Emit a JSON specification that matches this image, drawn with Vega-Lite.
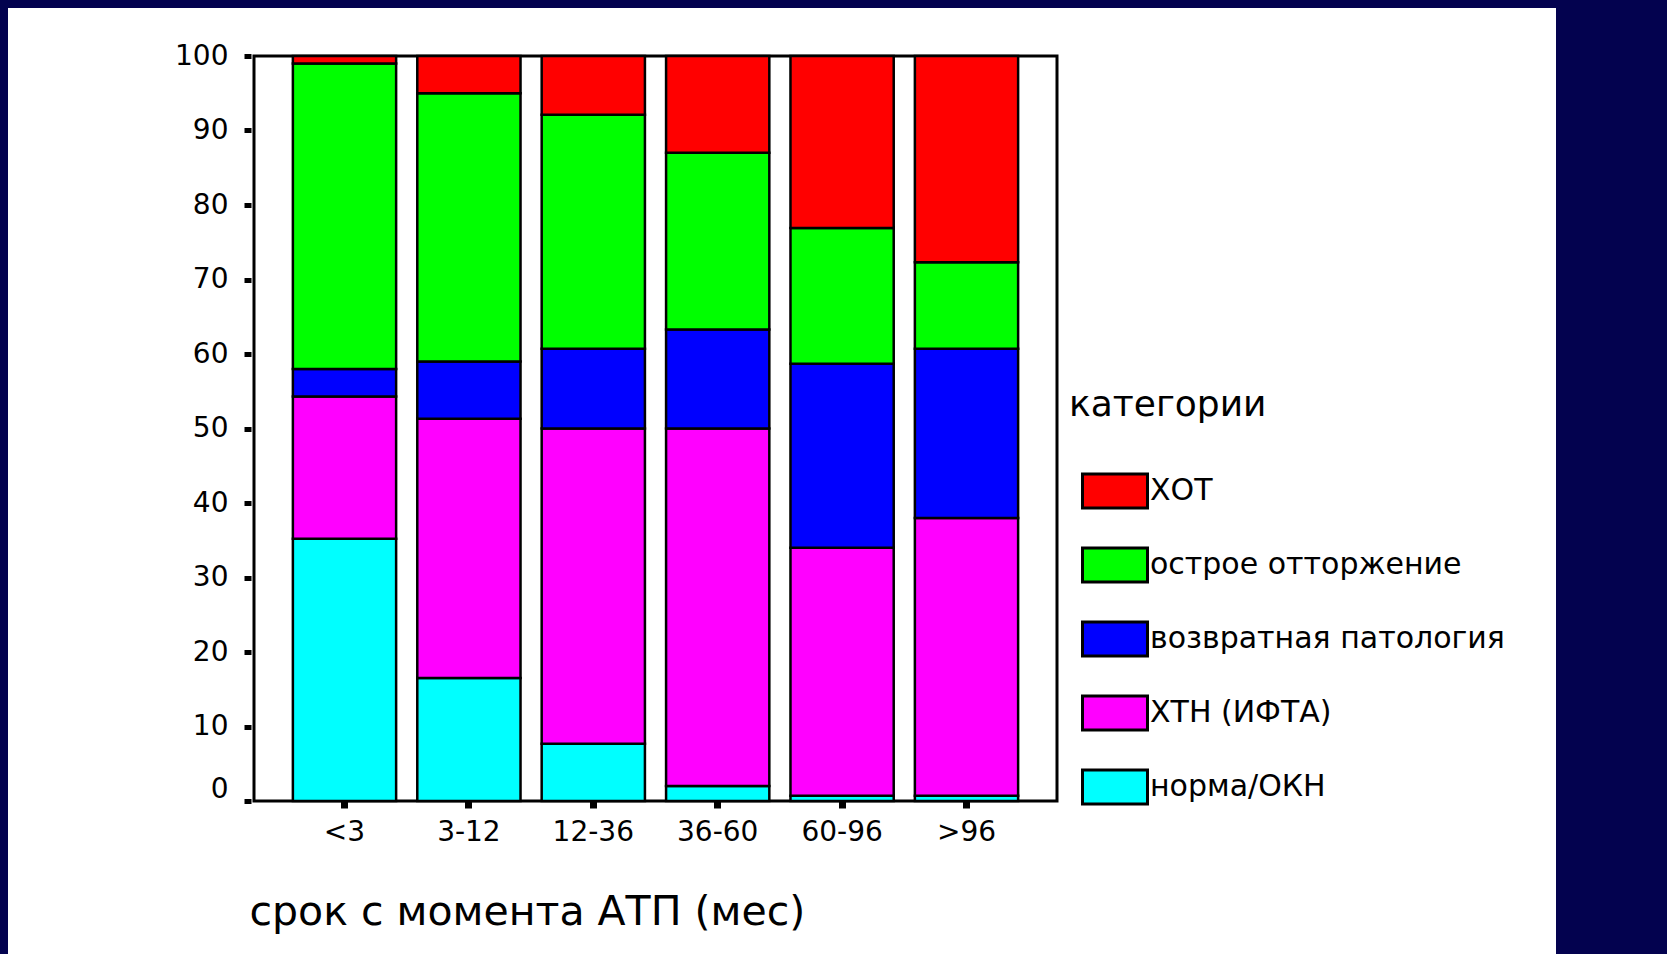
{
  "$schema": "https://vega.github.io/schema/vega-lite/v6.json",
  "background": "#03024f",
  "padding": {"left": 8, "top": 8, "right": 111, "bottom": 0},
  "columns": 2,
  "align": "none",
  "spacing": -1383,
  "config": {
    "font": "DejaVu Sans",
    "view": {"stroke": null}
  },
  "concat": [
    {
      "width": 1548,
      "height": 946,
      "data": {"values": []},
      "mark": {"type": "rect"},
      "view": {"fill": "white", "stroke": null}
    },
    {
      "columns": 1,
      "align": "none",
      "spacing": 31,
      "concat": [
        {
          "width": 1,
          "height": 1,
          "data": {"values": []},
          "mark": {"type": "rect"},
          "view": {"fill": "white", "stroke": null}
        },
        {
          "width": 803,
          "height": 745,
          "view": {"stroke": "black", "strokeWidth": 3, "fill": null},
          "data": {
            "values": [
              {"period": "<3", "cat": "норма/ОКН", "ord": 1, "pct": 35.2},
              {"period": "<3", "cat": "ХТН (ИФТА)", "ord": 2, "pct": 19.1},
              {"period": "<3", "cat": "возвратная патология", "ord": 3, "pct": 3.7},
              {"period": "<3", "cat": "острое отторжение", "ord": 4, "pct": 41.0},
              {"period": "<3", "cat": "ХОТ", "ord": 5, "pct": 1.0},
              {"period": "3-12", "cat": "норма/ОКН", "ord": 1, "pct": 16.5},
              {"period": "3-12", "cat": "ХТН (ИФТА)", "ord": 2, "pct": 34.8},
              {"period": "3-12", "cat": "возвратная патология", "ord": 3, "pct": 7.7},
              {"period": "3-12", "cat": "острое отторжение", "ord": 4, "pct": 36.0},
              {"period": "3-12", "cat": "ХОТ", "ord": 5, "pct": 5.0},
              {"period": "12-36", "cat": "норма/ОКН", "ord": 1, "pct": 7.7},
              {"period": "12-36", "cat": "ХТН (ИФТА)", "ord": 2, "pct": 42.3},
              {"period": "12-36", "cat": "возвратная патология", "ord": 3, "pct": 10.7},
              {"period": "12-36", "cat": "острое отторжение", "ord": 4, "pct": 31.4},
              {"period": "12-36", "cat": "ХОТ", "ord": 5, "pct": 7.9},
              {"period": "36-60", "cat": "норма/ОКН", "ord": 1, "pct": 2.0},
              {"period": "36-60", "cat": "ХТН (ИФТА)", "ord": 2, "pct": 48.0},
              {"period": "36-60", "cat": "возвратная патология", "ord": 3, "pct": 13.3},
              {"period": "36-60", "cat": "острое отторжение", "ord": 4, "pct": 23.7},
              {"period": "36-60", "cat": "ХОТ", "ord": 5, "pct": 13.0},
              {"period": "60-96", "cat": "норма/ОКН", "ord": 1, "pct": 0.7},
              {"period": "60-96", "cat": "ХТН (ИФТА)", "ord": 2, "pct": 33.3},
              {"period": "60-96", "cat": "возвратная патология", "ord": 3, "pct": 24.7},
              {"period": "60-96", "cat": "острое отторжение", "ord": 4, "pct": 18.2},
              {"period": "60-96", "cat": "ХОТ", "ord": 5, "pct": 23.1},
              {"period": ">96", "cat": "норма/ОКН", "ord": 1, "pct": 0.7},
              {"period": ">96", "cat": "ХТН (ИФТА)", "ord": 2, "pct": 37.3},
              {"period": ">96", "cat": "возвратная патология", "ord": 3, "pct": 22.7},
              {"period": ">96", "cat": "острое отторжение", "ord": 4, "pct": 11.6},
              {"period": ">96", "cat": "ХОТ", "ord": 5, "pct": 27.7}
            ]
          },
          "mark": {"type": "bar", "stroke": "black", "strokeWidth": 2.5},
          "encoding": {
            "x": {
              "field": "period",
              "type": "nominal",
              "sort": ["<3", "3-12", "12-36", "36-60", "60-96", ">96"],
              "scale": {"paddingInner": 0.17, "paddingOuter": 0.3125},
              "axis": {
                "title": "срок с момента  АТП (мес)",
                "domain": false,
                "grid": false,
                "tickSize": 7,
                "tickWidth": 7,
                "tickColor": "black",
                "labelPadding": 10,
                "labelAngle": 0,
                "labelFont": "DejaVu Sans",
                "labelFontSize": 28,
                "labelColor": "black",
                "titleFont": "DejaVu Sans",
                "titleFontSize": 41,
                "titleFontWeight": "normal",
                "titleColor": "black",
                "titleAnchor": "start",
                "titleAlign": "left",
                "titleBaseline": "alphabetic",
                "titleX": -5,
                "titleY": 123,
                "titleLimit": 0
              }
            },
            "y": {
              "field": "pct",
              "type": "quantitative",
              "stack": "zero",
              "scale": {"domain": [0, 100], "nice": false},
              "axis": {
                "title": null,
                "offset": 3,
                "domain": false,
                "grid": false,
                "values": [0, 10, 20, 30, 40, 50, 60, 70, 80, 90, 100],
                "tickSize": 7,
                "tickWidth": 5,
                "tickColor": "black",
                "labelPadding": 16,
                "labelOffset": {"condition": {"test": "datum.value === 0", "value": -12}, "value": 0},
                "labelFont": "DejaVu Sans",
                "labelFontSize": 28,
                "labelColor": "black"
              }
            },
            "color": {
              "field": "cat",
              "type": "nominal",
              "scale": {
                "domain": ["ХОТ", "острое отторжение", "возвратная патология", "ХТН (ИФТА)", "норма/ОКН"],
                "range": ["#ff0000", "#00ff00", "#0000ff", "#ff00ff", "#00ffff"]
              },
              "legend": {
                "orient": "none",
                "legendX": 1061,
                "legendY": 380,
                "title": "категории",
                "titleFont": "DejaVu Sans",
                "titleFontSize": 36,
                "titleFontWeight": "normal",
                "titleColor": "black",
                "titlePadding": 33,
                "titleLimit": 0,
                "labelFont": "DejaVu Sans",
                "labelFontSize": 30,
                "labelColor": "black",
                "labelLimit": 0,
                "symbolType": "M-1,-0.52H1V0.52H-1Z",
                "symbolSize": 4225,
                "symbolStrokeColor": "black",
                "symbolStrokeWidth": 3,
                "symbolOpacity": 1,
                "symbolOffset": 12,
                "labelOffset": 1,
                "rowPadding": 17,
                "padding": 0
              }
            },
            "order": {"field": "ord", "type": "quantitative"}
          }
        }
      ]
    }
  ]
}
